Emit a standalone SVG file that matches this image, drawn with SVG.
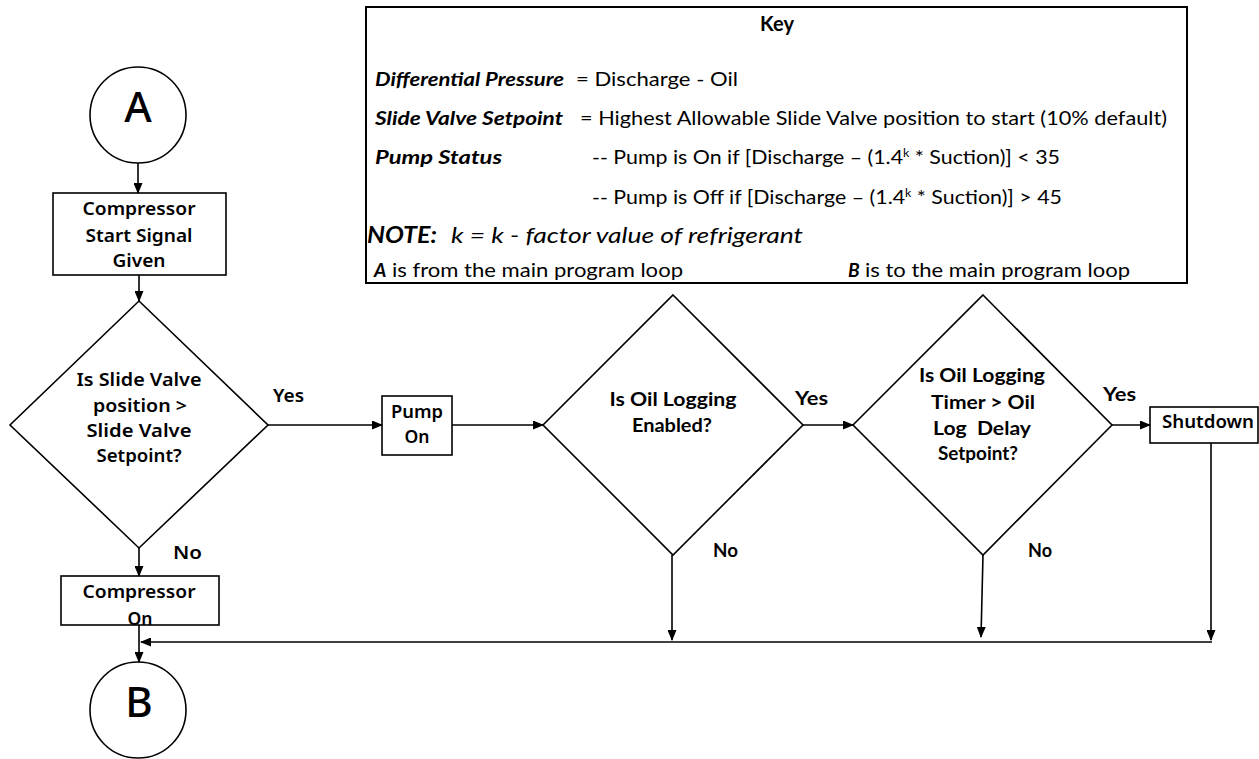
<svg xmlns="http://www.w3.org/2000/svg" width="1259" height="759" viewBox="0 0 1259 759">
<defs>
<marker id="ah" markerWidth="11" markerHeight="9" refX="10" refY="4.5" orient="auto" markerUnits="userSpaceOnUse">
<path d="M0,0 L11,4.5 L0,9 z" fill="#000"/>
</marker>
<style>
.shape{fill:#fff;stroke:#000;stroke-width:1.6}
.conn{fill:none;stroke:#000;stroke-width:1.6}
.arr{marker-end:url(#ah)}
.n{font-family:"Noto Sans","DejaVu Sans",sans-serif;font-weight:600;font-size:18px;fill:#000}
.big{font-size:42px;font-weight:500}
.c{font-family:Lato,"Liberation Sans",sans-serif;font-weight:700;font-size:19px;fill:#000}
.k{font-family:Lato,"Liberation Sans",sans-serif;font-size:19px;fill:#000}
.kb{font-weight:700;font-style:italic}
.title{font-size:20px;font-weight:700}
.note{font-size:22px}
.sup{font-size:11px}
.pre{white-space:pre}
.mid{text-anchor:middle}
</style>
</defs>
<rect width="1259" height="759" fill="#fff"/>

<g id="key">
<rect x="366" y="7" width="821" height="276" fill="#fff" stroke="#000" stroke-width="2"/>
<text class="k title mid" x="777" y="31">Key</text>
<text class="k kb" x="375" y="86" textLength="189" lengthAdjust="spacingAndGlyphs">Differential Pressure</text>
<text class="k" x="576" y="86" textLength="162" lengthAdjust="spacingAndGlyphs">= Discharge - Oil</text>
<text class="k kb" x="375" y="125" textLength="188" lengthAdjust="spacingAndGlyphs">Slide Valve Setpoint</text>
<text class="k" x="580" y="125" textLength="587" lengthAdjust="spacingAndGlyphs">= Highest Allowable Slide Valve position to start (10% default)</text>
<text class="k kb" x="375" y="164" textLength="127" lengthAdjust="spacingAndGlyphs">Pump Status</text>
<text class="k" x="592" y="164" textLength="468" lengthAdjust="spacingAndGlyphs">-- Pump is On if [Discharge – (1.4<tspan class="sup" dy="-7">k</tspan><tspan dy="7"> * Suction)] &lt; 35</tspan></text>
<text class="k" x="592" y="204" textLength="470" lengthAdjust="spacingAndGlyphs">-- Pump is Off if [Discharge – (1.4<tspan class="sup" dy="-7">k</tspan><tspan dy="7"> * Suction)] &gt; 45</tspan></text>
<text class="k kb note" x="367" y="243" textLength="70" lengthAdjust="spacingAndGlyphs">NOTE:</text>
<text class="k note" x="451" y="243" font-style="italic" textLength="352" lengthAdjust="spacingAndGlyphs">k = k - factor value of refrigerant</text>
<text class="k kb" x="374" y="277">A</text>
<text class="k" x="392" y="277" textLength="291" lengthAdjust="spacingAndGlyphs">is from the main program loop</text>
<text class="k kb" x="848" y="277">B</text>
<text class="k" x="865" y="277" textLength="265" lengthAdjust="spacingAndGlyphs">is to the main program loop</text>
</g>

<g id="nodeA">
<circle class="shape" cx="138" cy="115" r="48"/>
<text class="n big mid" x="138" y="122">A</text>
</g>

<g id="startSignal">
<rect class="shape" x="53" y="193" width="173" height="82"/>
<text class="n mid" x="139" y="215" textLength="113" lengthAdjust="spacingAndGlyphs">Compressor</text>
<text class="n mid" x="139" y="242" textLength="107" lengthAdjust="spacingAndGlyphs">Start Signal</text>
<text class="n mid" x="139" y="267" textLength="53" lengthAdjust="spacingAndGlyphs">Given</text>
</g>

<g id="slideValveDecision">
<polygon class="shape" points="139,301 268,425 139,548 10,425"/>
<text class="n mid" x="139" y="386" textLength="125" lengthAdjust="spacingAndGlyphs">Is Slide Valve</text>
<text class="n mid" x="140" y="412" textLength="94" lengthAdjust="spacingAndGlyphs">position &gt;</text>
<text class="n mid" x="139" y="437" textLength="105" lengthAdjust="spacingAndGlyphs">Slide Valve</text>
<text class="n mid" x="139" y="462" textLength="85" lengthAdjust="spacingAndGlyphs">Setpoint?</text>
</g>

<g id="pumpOn">
<rect class="shape" x="382" y="396" width="70" height="59"/>
<text class="n mid" x="417" y="418" textLength="52" lengthAdjust="spacingAndGlyphs">Pump</text>
<text class="n mid" x="417" y="443" textLength="25" lengthAdjust="spacingAndGlyphs">On</text>
</g>

<g id="oilLoggingDecision">
<polygon class="shape" points="673,295 803,425 673,555 543,425"/>
<text class="c mid" x="673" y="406" textLength="127" lengthAdjust="spacingAndGlyphs">Is Oil Logging</text>
<text class="c mid" x="672" y="432" textLength="80" lengthAdjust="spacingAndGlyphs">Enabled?</text>
</g>

<g id="timerDecision">
<polygon class="shape" points="983,295 1112,425 983,555 853,425"/>
<text class="c mid" x="982" y="382" textLength="126" lengthAdjust="spacingAndGlyphs">Is Oil Logging</text>
<text class="c mid" x="983" y="409" textLength="104" lengthAdjust="spacingAndGlyphs">Timer &gt; Oil</text>
<text class="c mid pre" x="982" y="435" textLength="98" lengthAdjust="spacingAndGlyphs">Log  Delay</text>
<text class="c mid" x="978" y="460" textLength="80" lengthAdjust="spacingAndGlyphs">Setpoint?</text>
</g>

<g id="shutdown">
<rect class="shape" x="1150" y="407" width="108" height="36"/>
<text class="n" x="1162" y="428" textLength="92" lengthAdjust="spacingAndGlyphs">Shutdown</text>
</g>

<g id="compressorOn">
<rect class="shape" x="61" y="576" width="158" height="49"/>
<text class="n mid" x="139" y="598" textLength="113" lengthAdjust="spacingAndGlyphs">Compressor</text>
<text class="n mid" x="140" y="625" textLength="25" lengthAdjust="spacingAndGlyphs">On</text>
</g>

<g id="nodeB">
<circle class="shape" cx="138" cy="710" r="48"/>
<text class="n big mid" x="139" y="717">B</text>
</g>

<g id="connectors">
<line class="conn arr" x1="138" y1="163" x2="138" y2="193"/>
<line class="conn arr" x1="139" y1="275" x2="139" y2="301"/>
<line class="conn arr" x1="268" y1="425" x2="382" y2="425"/>
<line class="conn arr" x1="452" y1="425" x2="543" y2="425"/>
<line class="conn arr" x1="803" y1="425" x2="853" y2="425"/>
<line class="conn arr" x1="1112" y1="425" x2="1150" y2="425"/>
<line class="conn arr" x1="139" y1="548" x2="139" y2="576"/>
<line class="conn arr" x1="139" y1="625" x2="139" y2="662"/>
<line class="conn arr" x1="672" y1="555" x2="672" y2="640"/>
<line class="conn arr" x1="983" y1="555" x2="981" y2="637"/>
<line class="conn arr" x1="1211" y1="443" x2="1211" y2="640"/>
<line class="conn arr" x1="1212" y1="642" x2="141" y2="642"/>
<text class="n" x="273" y="402" textLength="31" lengthAdjust="spacingAndGlyphs">Yes</text>
<text class="n" x="173" y="559" textLength="29" lengthAdjust="spacingAndGlyphs">No</text>
<text class="c" x="795" y="405" textLength="33" lengthAdjust="spacingAndGlyphs">Yes</text>
<text class="c" x="713" y="557" textLength="25" lengthAdjust="spacingAndGlyphs">No</text>
<text class="c" x="1103" y="401" textLength="33" lengthAdjust="spacingAndGlyphs">Yes</text>
<text class="c" x="1028" y="557" textLength="24" lengthAdjust="spacingAndGlyphs">No</text>
</g>
</svg>
